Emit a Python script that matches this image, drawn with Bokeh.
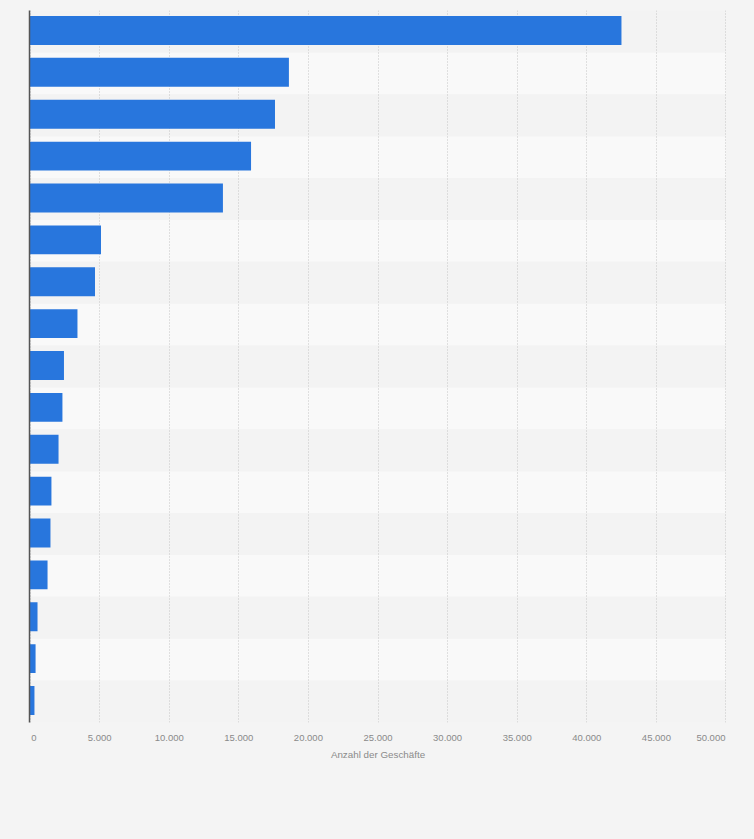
from bokeh.plotting import figure
from bokeh.embed import file_html
from bokeh.resources import INLINE
from bokeh.models import Range1d, FixedTicker, GlobalInlineStyleSheet, ColumnDataSource
from bokeh.transform import dodge

rows = list(range(17))
values = [42490, 18600, 17600, 15880, 13860, 5100, 4670, 3410, 2440, 2330, 2050, 1540, 1470, 1260, 540, 400, 320]
tick_values = [0, 5000, 10000, 15000, 20000, 25000, 30000, 35000, 40000, 45000, 50000]
tick_labels = ["0", "5.000", "10.000", "15.000", "20.000", "25.000", "30.000", "35.000", "40.000", "45.000", "50.000"]
axis_title = "Anzahl der Geschäfte"
x_max = 50000

BG = "#f4f4f4"
p = figure(width=754, height=839, output_backend="svg", toolbar_location=None,
           x_range=Range1d(-36, x_max + 36), y_range=Range1d(16.5, -0.5),
           frame_width=697, frame_height=712,
           min_border_left=29, min_border_right=28, min_border_top=10, min_border_bottom=117,
           background_fill_color=BG, border_fill_color=BG)
p.stylesheets = [GlobalInlineStyleSheet(css="html,body{background:#f4f4f4}")]
p.outline_line_color = None

# alternating row stripes
p.hbar(y=rows[1::2], right=[x_max] * len(rows[1::2]), left=0, height=1.0,
       color="#f9f9f9", line_color=None, level="image")
p.hbar(y=rows[0::2], right=[x_max] * len(rows[0::2]), left=0, height=1.0,
       color="#f3f3f3", line_color=None, level="image")

src = ColumnDataSource(dict(row=rows, value=values))
p.hbar(y=dodge("row", -0.024), right="value", left=0, height=0.69, color="#2876dd",
       line_color=None, source=src)

p.ygrid.visible = False
p.xgrid.ticker = FixedTicker(ticks=tick_values)
p.xgrid.grid_line_color = "#c4c4c4"
p.xgrid.grid_line_dash = [1, 2]
p.xgrid.grid_line_width = 1

xa = p.xaxis[0]
xa.ticker = FixedTicker(ticks=tick_values)
overrides = dict(zip(tick_values, tick_labels))
# the first label sits right of its tick, the last one left of it
overrides[tick_values[0]] = "\u00a0\u00a0\u00a0" + tick_labels[0]
overrides[tick_values[-1]] = tick_labels[-1] + "\u00a0" * 11
xa.major_label_overrides = overrides
xa.axis_line_color = None
xa.major_tick_line_color = None
xa.minor_tick_line_color = None
xa.major_label_text_font = "Liberation Sans"
xa.major_label_text_font_size = "9.5px"
xa.major_label_text_color = "#8a8a8a"
xa.major_label_standoff = 3
xa.axis_label = axis_title
xa.axis_label_text_font = "Liberation Sans"
xa.axis_label_text_font_size = "9.8px"
xa.axis_label_text_font_style = "normal"
xa.axis_label_text_color = "#8a8a8a"
xa.axis_label_standoff = 3

ya = p.yaxis[0]
ya.ticker = FixedTicker(ticks=[])
ya.axis_line_color = "#555555"
ya.axis_line_width = 1.5
ya.major_tick_line_color = None
ya.minor_tick_line_color = None
ya.major_label_text_font_size = "0px"
ya.major_label_standoff = 0

open("out.html", "w").write(file_html(p, INLINE))
